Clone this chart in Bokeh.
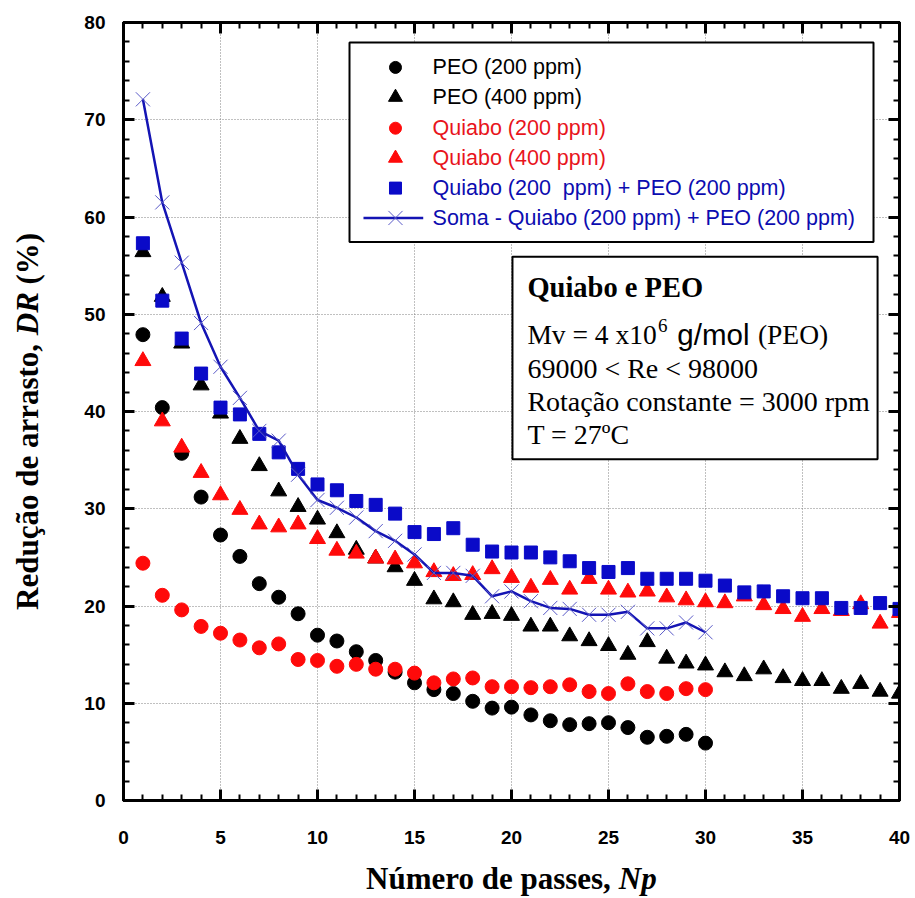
import math
from bokeh.plotting import figure
from bokeh.layouts import row, column
from bokeh.models import (LinearAxis, Range1d, SingleIntervalTicker,
                          CustomJSTickFormatter)
from bokeh.core.properties import value
from bokeh.embed import file_html
from bokeh.resources import INLINE

# Número de passes
passes_30 = list(range(1, 31))
passes_40 = list(range(1, 41))

# Redução de arrasto DR (%) para cada solução
peo_200 = [47.9, 40.4, 35.7, 31.2, 27.3, 25.1, 22.3, 20.9, 19.2, 17.0,
           16.4, 15.3, 14.4, 13.2, 12.1, 11.4, 11.0, 10.2, 9.5, 9.6,
           8.8, 8.2, 7.8, 7.9, 8.0, 7.5, 6.5, 6.6, 6.8, 5.9]

peo_400 = [56.4, 51.8, 47.0, 42.7, 39.8, 37.2, 34.4, 31.8, 30.2, 28.9,
           27.5, 25.8, 24.9, 24.0, 22.6, 20.7, 20.4, 19.1, 19.2, 19.0,
           17.9, 17.9, 16.9, 16.4, 15.9, 15.0, 16.3, 14.6, 14.1, 13.9,
           13.2, 12.8, 13.5, 12.6, 12.3, 12.3, 11.5, 12.0, 11.2, 11.0]

quiabo_200 = [24.4, 21.1, 19.6, 17.9, 17.2, 16.5, 15.7, 16.1, 14.5, 14.4,
              13.8, 14.0, 13.5, 13.5, 13.1, 12.1, 12.5, 12.6, 11.7, 11.7,
              11.6, 11.7, 11.9, 11.2, 11.0, 12.0, 11.2, 11.0, 11.5, 11.4]

quiabo_400 = [45.2, 39.0, 36.3, 33.7, 31.4, 29.9, 28.4, 28.1, 28.4, 26.9,
              25.7, 25.4, 24.9, 24.8, 24.4, 23.5, 23.1, 23.2, 23.8, 22.9,
              21.9, 22.7, 21.7, 22.8, 21.7, 21.4, 21.5, 20.9, 20.6, 20.4,
              20.3, 21.0, 20.1, 19.7, 18.9, 19.7, 19.5, 20.2, 18.2, 19.3]

mistura = [57.3, 51.4, 47.5, 43.9, 40.4, 39.7, 37.7, 35.8, 34.1, 32.5,
           31.9, 30.8, 30.4, 29.5, 27.6, 27.4, 28.0, 26.3, 25.6, 25.5,
           25.5, 25.0, 24.6, 23.9, 23.5, 23.9, 22.8, 22.8, 22.8, 22.6,
           22.1, 21.4, 21.5, 21.0, 20.8, 20.8, 19.8, 19.8, 20.3, 19.7]

soma = [72.1, 61.5, 55.3, 49.1, 44.6, 41.4, 38.0, 37.0, 33.5, 30.9,
        30.1, 29.1, 27.7, 26.7, 25.3, 23.4, 23.4, 23.1, 21.0, 21.5,
        20.5, 19.8, 19.7, 19.1, 19.1, 19.4, 17.7, 17.7, 18.3, 17.3]

series_labels = ["PEO (200 ppm)", "PEO (400 ppm)", "Quiabo (200 ppm)",
                 "Quiabo (400 ppm)", "Quiabo (200\u00a0 ppm) + PEO (200 ppm)",
                 "Soma - Quiabo (200 ppm) + PEO (200 ppm)"]

y_title = ["Redução de arrasto,", "DR", "(%)"]
x_title = ["Número de passes,", "Np"]

x_ticks_interval = 5
y_ticks_interval = 10

BLACK = "#000000"
RED = "#ff0a0a"
BLUE = "#0a0ac8"
LINE_BLUE = "#1414b4"
CROSS = "#5a5ac8"
TEXT_BLUE = "#0c0cb0"
TEXT_RED = "#e8141c"

SERIF = "Liberation Serif"
SANS = "Liberation Sans"

TOTAL_W, TOTAL_H = 915, 898
YT_W = 54          # faixa do título do eixo y
XT_H = 43          # faixa do título do eixo x
MAIN_W = TOTAL_W - YT_W
MAIN_H = TOTAL_H - XT_H
BORDER_TOP = 22
BORDER_BOTTOM = MAIN_H - 800

p = figure(width=MAIN_W, height=MAIN_H, output_backend="svg",
           toolbar_location=None,
           x_range=Range1d(0, 40), y_range=Range1d(0, 80),
           min_border_left=123 - YT_W, min_border_right=16,
           min_border_top=BORDER_TOP, min_border_bottom=BORDER_BOTTOM)
p.outline_line_color = "black"
p.outline_line_width = 3
p.background_fill_color = "white"
p.border_fill_color = "white"

xt = SingleIntervalTicker(interval=x_ticks_interval, num_minor_ticks=5)
yt = SingleIntervalTicker(interval=y_ticks_interval, num_minor_ticks=5)


def style_axis(ax, ticker, labels):
    ax.ticker = ticker
    ax.axis_line_width = 3
    ax.axis_line_color = "black"
    ax.major_tick_in = 11
    ax.major_tick_out = 0
    ax.minor_tick_in = 6
    ax.minor_tick_out = 0
    ax.major_tick_line_width = 3
    ax.minor_tick_line_width = 2
    ax.major_tick_line_color = "black"
    ax.minor_tick_line_color = "black"
    if labels:
        ax.major_label_text_font = SANS
        ax.major_label_text_font_style = "bold"
        ax.major_label_text_font_size = "19px"
        ax.major_label_text_color = "black"
    else:
        # eixo espelhado: só as marcas, sem rótulos
        ax.formatter = CustomJSTickFormatter(code="return ''")
        ax.major_label_standoff = 0


style_axis(p.xaxis[0], xt, True)
p.xaxis[0].major_label_standoff = 30
style_axis(p.yaxis[0], yt, True)
p.yaxis[0].major_label_standoff = 18

top_axis = LinearAxis()
style_axis(top_axis, xt, False)
p.add_layout(top_axis, "above")
right_axis = LinearAxis()
style_axis(right_axis, yt, False)
p.add_layout(right_axis, "right")

p.xgrid.ticker = xt
p.ygrid.ticker = yt
for g in (p.xgrid, p.ygrid):
    g.grid_line_color = "#808080"
    g.grid_line_dash = "1 2"
    g.grid_line_width = 1

# séries
p.scatter(passes_30, peo_200, marker="circle", size=14, color=BLACK)
p.scatter(passes_40, peo_400, marker="triangle", size=16, color=BLACK)
p.scatter(passes_30, quiabo_200, marker="circle", size=14, color=RED)
p.scatter(passes_40, quiabo_400, marker="triangle", size=16, color=RED)
p.scatter(passes_40, mistura, marker="square", size=13, color=BLUE)
p.line(passes_30, soma, line_color=LINE_BLUE, line_width=2.5)
p.scatter(passes_30, soma, marker="x", size=20, line_color=CROSS, line_width=1)

# legenda
p.quad(left=[11.65], right=[38.66], bottom=[57.44], top=[77.95],
       fill_color="white", line_color="black", line_width=2)
row_y = [75.38, 72.31, 69.13, 66.05, 62.97, 59.90]
mark_x = 14.02
p.scatter([mark_x], [row_y[0]], marker="circle", size=12, color=BLACK)
p.scatter([mark_x], [row_y[1]], marker="triangle", size=14, color=BLACK)
p.scatter([mark_x], [row_y[2]], marker="circle", size=12, color=RED)
p.scatter([mark_x], [row_y[3]], marker="triangle", size=14, color=RED)
p.scatter([mark_x], [row_y[4]], marker="square", size=12, color=BLUE)
p.line([12.37, 15.45], [row_y[5], row_y[5]], line_color=LINE_BLUE, line_width=2.5)
p.scatter([mark_x], [row_y[5]], marker="x", size=20, line_color=CROSS, line_width=1)
p.text(x=[15.93] * 6, y=row_y, text=series_labels,
       text_color=[BLACK, BLACK, TEXT_RED, TEXT_RED, TEXT_BLUE, TEXT_BLUE],
       text_font=value(SANS), text_font_size="21.5px",
       text_baseline="middle", text_align="left")

# caixa de condições do ensaio
p.quad(left=[20.05], right=[38.87], bottom=[35.1], top=[55.9],
       fill_color="white", line_color="black", line_width=2)
info_x = 20.82
p.text(x=[info_x], y=[52.75], text=["Quiabo e PEO"], text_font=value(SERIF),
       text_font_style="bold", text_font_size="28.5px", text_color="black",
       text_baseline="alphabetic", text_align="left")
p.text(x=[info_x], y=[47.9], text=["Mv = 4 x10"], text_font=value(SERIF),
       text_font_size="27.5px", text_color="black",
       text_baseline="alphabetic", text_align="left")
p.text(x=[27.55], y=[48.8], text=["6"], text_font=value(SERIF),
       text_font_size="19px", text_color="black",
       text_baseline="alphabetic", text_align="left")
p.text(x=[28.55], y=[47.9], text=["g/mol"], text_font=value(SANS),
       text_font_size="29.5px", text_color="black",
       text_baseline="alphabetic", text_align="left")
p.text(x=[32.70], y=[47.9], text=["(PEO)"], text_font=value(SERIF),
       text_font_size="27.5px", text_color="black",
       text_baseline="alphabetic", text_align="left")
p.text(x=[info_x] * 3, y=[44.44, 41.03, 37.64],
       text=["69000 < Re < 98000", "Rotação constante = 3000 rpm", "T = 27ºC"],
       text_font=value(SERIF), text_font_size="28px", text_color="black",
       text_baseline="alphabetic", text_align="left")


def title_strip(w, h, y_range, top=0, bottom=0):
    f = figure(width=w, height=h, output_backend="svg", toolbar_location=None,
               x_range=Range1d(0, w), y_range=y_range,
               x_axis_location=None, y_axis_location=None,
               min_border_left=0, min_border_right=0,
               min_border_top=top, min_border_bottom=bottom)
    f.outline_line_color = None
    f.grid.visible = False
    f.background_fill_color = "white"
    f.border_fill_color = "white"
    return f


# título do eixo y (vertical): mesma escala vertical do gráfico,
# montado em partes para o trecho em itálico
ty = title_strip(YT_W, MAIN_H, Range1d(0, 80), BORDER_TOP, BORDER_BOTTOM)
ty.text(x=[27, 27, 27], y=[19.59, 47.85, 53.05],
        text=y_title, angle=math.pi / 2,
        text_font=value(SERIF), text_font_size="31px", text_color="black",
        text_font_style=["bold", "bold italic", "bold"],
        text_align="left", text_baseline="middle")

# título do eixo x
tx = title_strip(TOTAL_W, XT_H, Range1d(0, XT_H))
tx.text(x=[365.5, 618.3], y=[TOTAL_H - 878, TOTAL_H - 878],
        text=x_title,
        text_font=value(SERIF), text_font_size="31px", text_color="black",
        text_font_style=["bold", "bold italic"],
        text_align="left", text_baseline="middle")

layout = column(row(ty, p, spacing=0), tx, spacing=0)
open("out.html", "w").write(file_html(layout, INLINE))
